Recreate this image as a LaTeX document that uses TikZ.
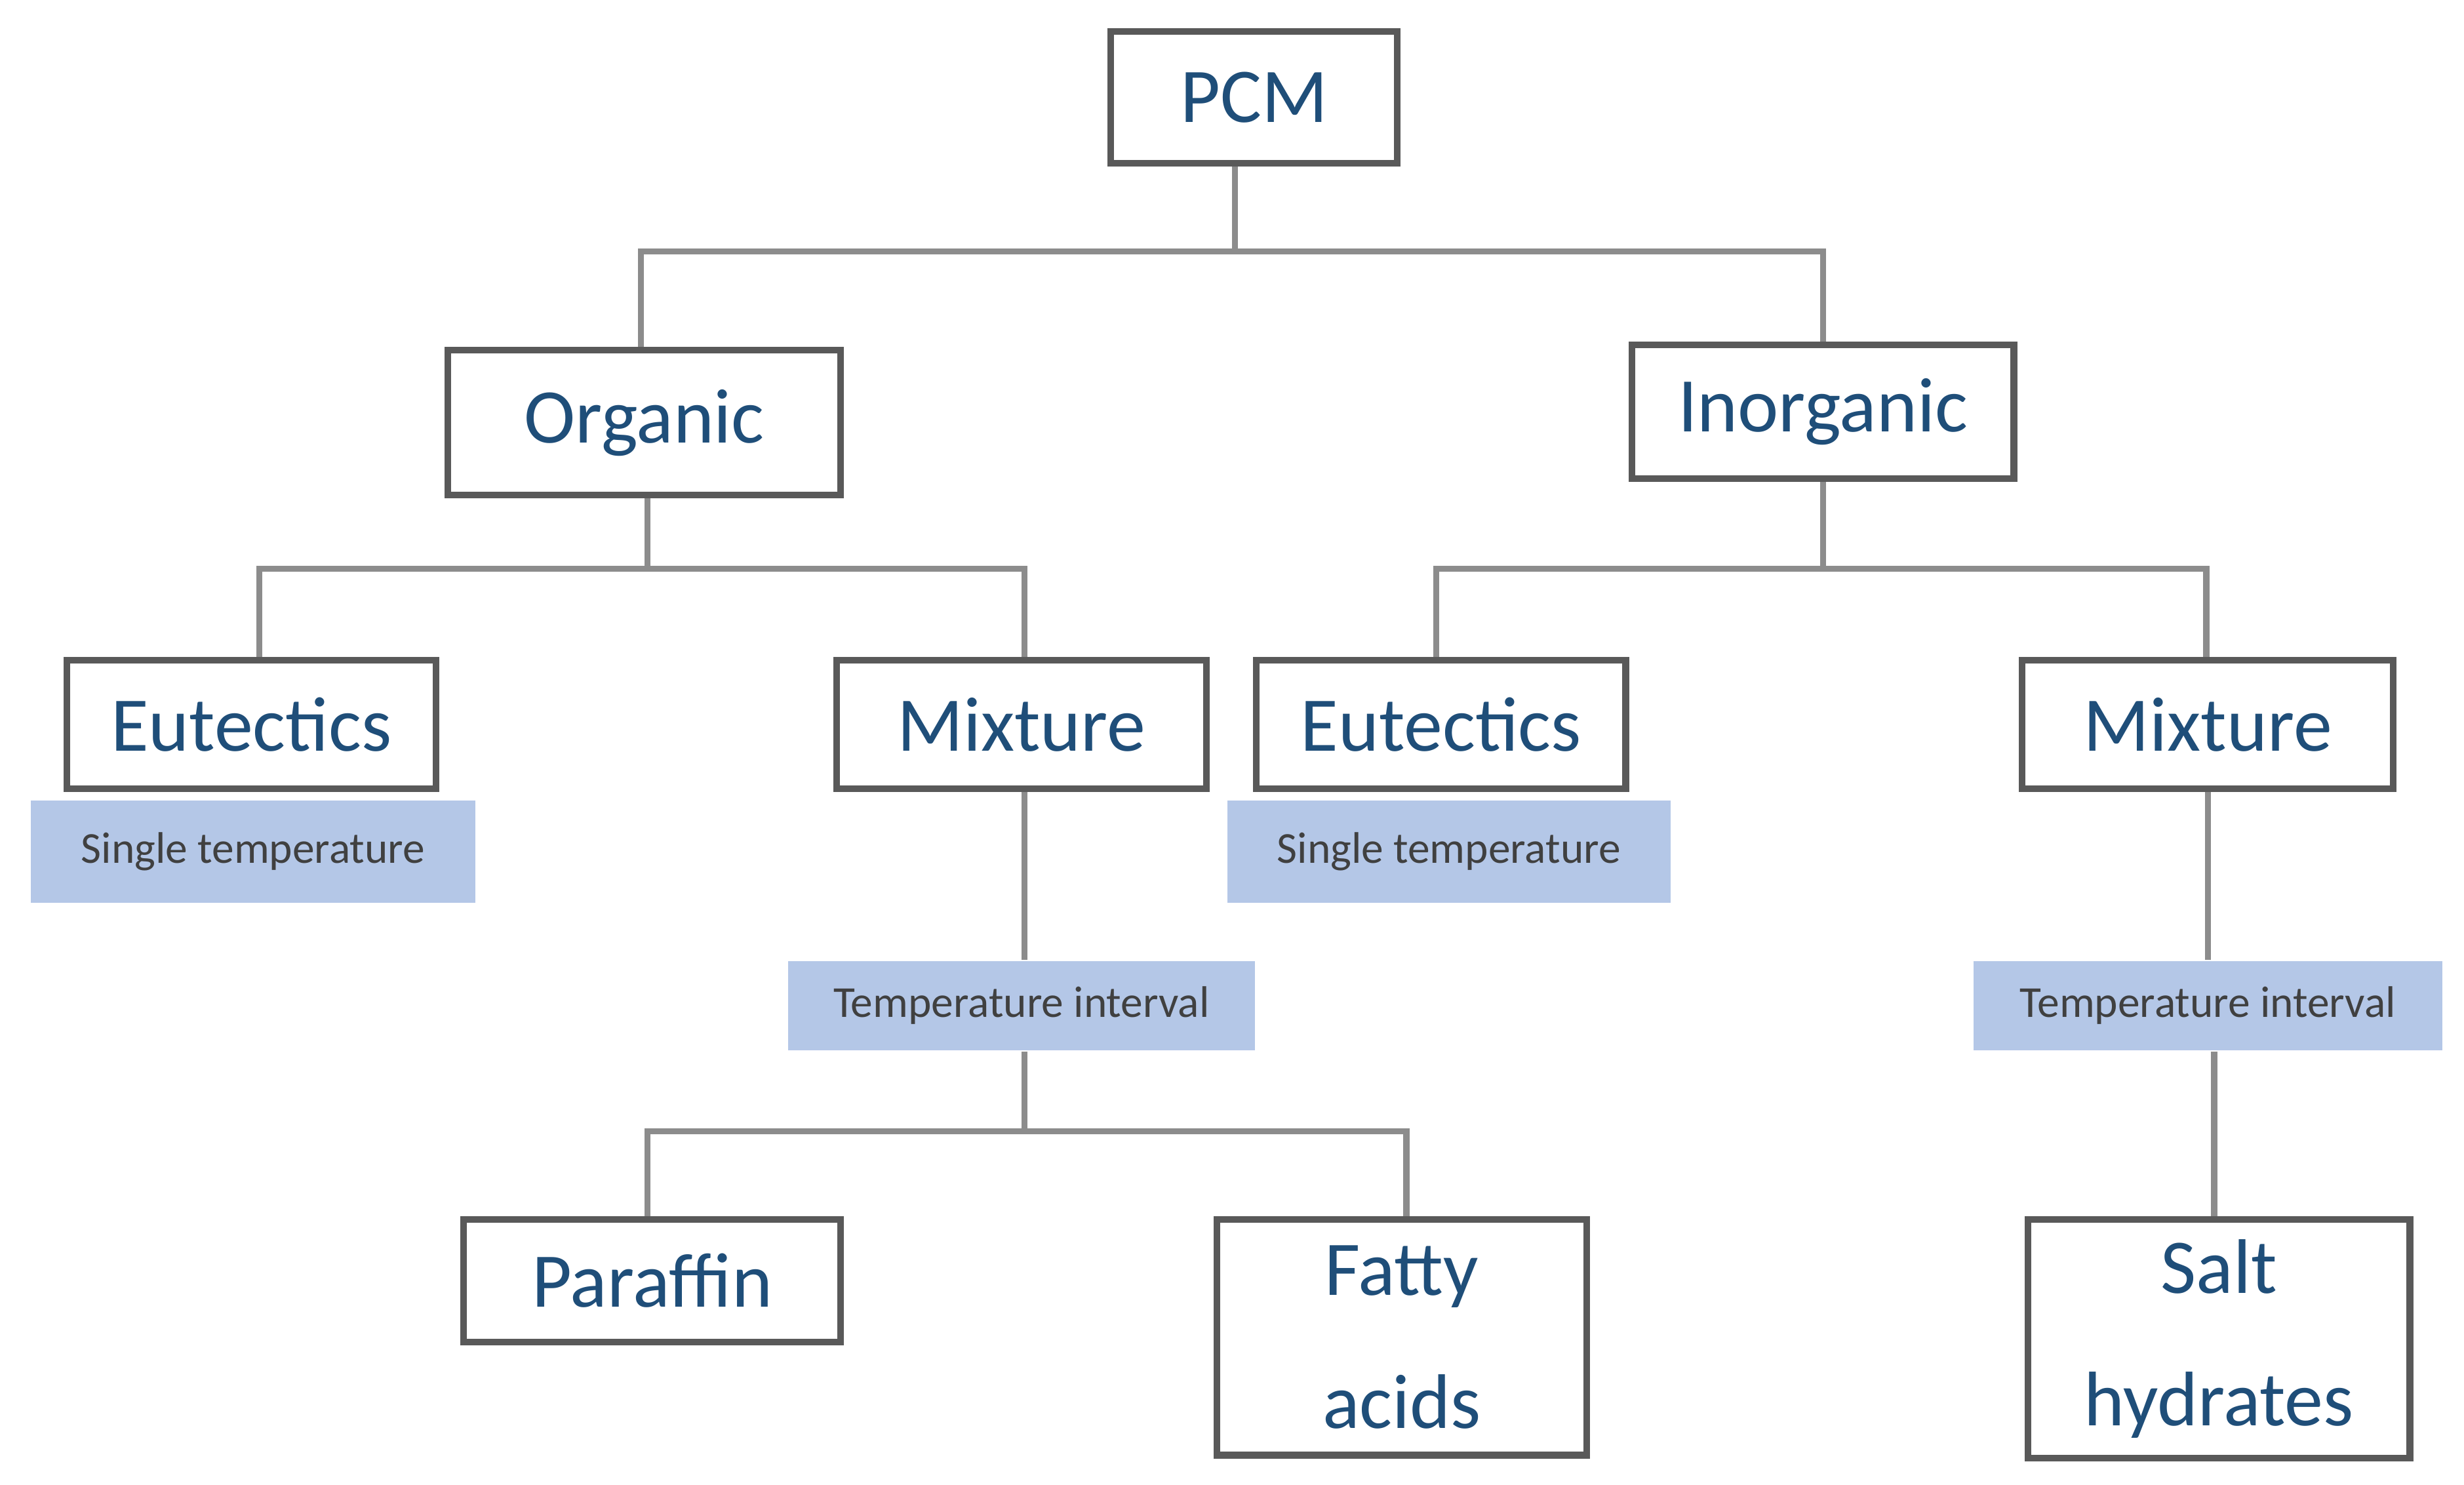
\documentclass[tikz,border=0pt]{standalone}
\usepackage{fontspec}
\setmainfont{Carlito}
\definecolor{txt}{HTML}{1F4E79}
\definecolor{brd}{HTML}{595959}
\definecolor{lin}{HTML}{8C8C8C}
\definecolor{lab}{HTML}{B4C7E7}
\begin{document}
\begin{tikzpicture}[x=0.01cm,y=-0.01cm,
  box/.style={draw=brd,line width=1.2pt,fill=white,text=txt,font=\fontsize{14}{20}\selectfont,inner sep=0pt,align=center},
  tag/.style={fill=lab,text=black!75,font=\fontsize{8}{9}\selectfont,inner sep=0pt},
  con/.style={draw=lin,line width=1.1pt}]
\useasboundingbox (0,0) rectangle (1568,945);
\coordinate (j1) at (786,160);
\coordinate (j2) at (412,362);
\coordinate (j3) at (1160,362);
\coordinate (j4) at (652,720);
\node[box,minimum width=1.82cm,minimum height=0.84cm] (pcm) at (798,62) {PCM};
\node[box,minimum width=2.50cm,minimum height=0.92cm] (org) at (410,269) {Organic};
\node[box,minimum width=2.43cm,minimum height=0.85cm] (inorg) at (1160,262) {Inorganic};
\node[box,minimum width=2.35cm,minimum height=0.82cm] (eul) at (160,461) {Eutectics};
\node[box,minimum width=2.35cm,minimum height=0.82cm] (mixl) at (650,461) {Mixture};
\node[box,minimum width=2.35cm,minimum height=0.82cm] (eur) at (917,461) {Eutectics};
\node[box,minimum width=2.36cm,minimum height=0.82cm] (mixr) at (1405,461) {Mixture};
\node[tag,minimum width=2.83cm,minimum height=0.65cm] (stl) at (161,542) {Single temperature};
\node[tag,minimum width=2.82cm,minimum height=0.65cm] (str) at (922,542) {Single temperature};
\node[tag,minimum width=2.97cm,minimum height=0.57cm] (til) at (650,640) {Temperature interval};
\node[tag,minimum width=2.98cm,minimum height=0.57cm] (tir) at (1405,640) {Temperature interval};
\node[box,minimum width=2.40cm,minimum height=0.78cm] (par) at (415,815) {Paraffin};
\node[box,minimum width=2.35cm,minimum height=1.50cm,font=\fontsize{14}{24}\selectfont] (fat) at (892,851) {Fatty\\acids};
\node[box,minimum width=2.43cm,minimum height=1.52cm,font=\fontsize{14}{24}\selectfont] (salt) at (1412,852) {Salt\\hydrates};
\draw[con] (pcm.south -| j1) -- (j1);
\draw[con] (j1) -| (org.north -| 408,0);
\draw[con] (j1) -| (inorg.north);
\draw[con] (org.south -| j2) -- (j2);
\draw[con] (j2) -| (eul.north -| 165,0);
\draw[con] (j2) -| (mixl.north -| 652,0);
\draw[con] (inorg.south) -- (j3);
\draw[con] (j3) -| (eur.north -| 914,0);
\draw[con] (j3) -| (mixr.north -| 1404,0);
\draw[con] (mixl.south -| 652,0) -- (til.north -| 652,0);
\draw[con] (til.south -| 652,0) -- (j4);
\draw[con] (j4) -| (par.north -| 412,0);
\draw[con] (j4) -| (fat.north -| 895,0);
\draw[con] (mixr.south) -- (tir.north);
\draw[con] (tir.south -| 1409,0) -- (salt.north -| 1409,0);
\end{tikzpicture}
\end{document}
